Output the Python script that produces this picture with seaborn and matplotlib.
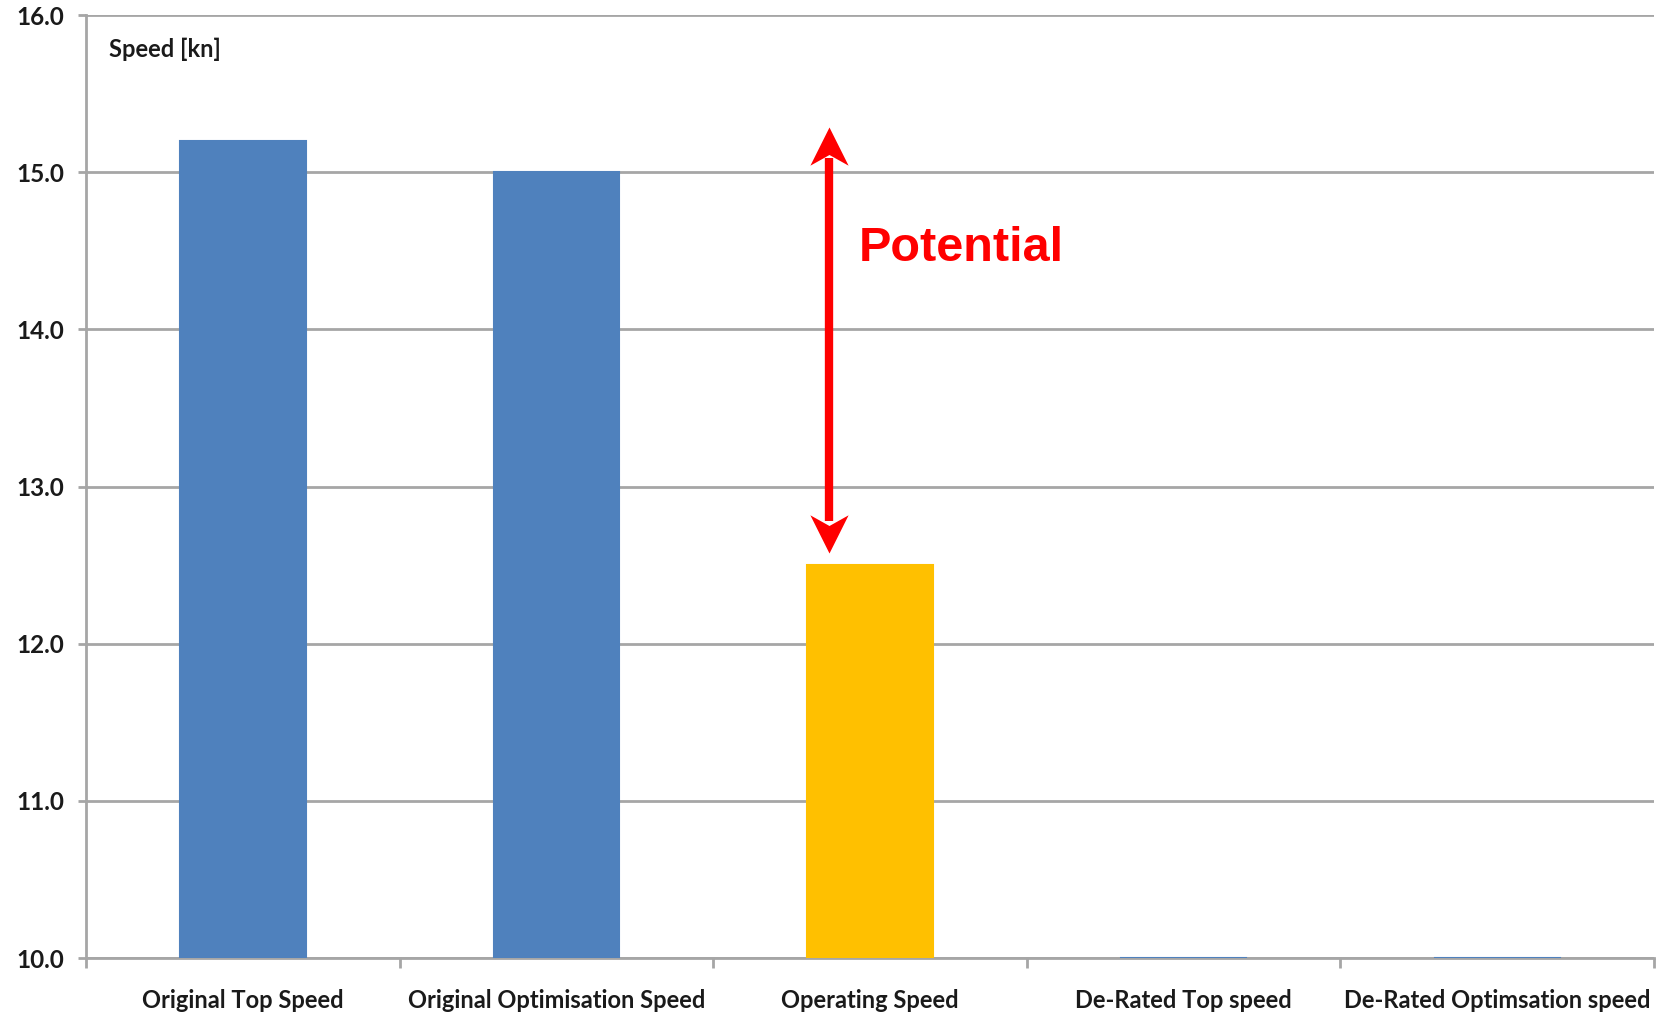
import matplotlib
matplotlib.use("Agg")
import matplotlib.pyplot as plt
import seaborn as sns
import pandas as pd
from matplotlib.path import Path
from matplotlib.ticker import FixedLocator

categories = ["Original Top Speed", "Original Optimisation Speed", "Operating Speed",
              "De-Rated Top speed", "De-Rated Optimsation speed"]
speeds = [15.2, 15.0, 12.5, 10.0, 10.0]
bar_colors = ["#4F81BD", "#4F81BD", "#FFC000", "#4F81BD", "#4F81BD"]
y_ticks = [10, 11, 12, 13, 14, 15, 16]
potential_top = 15.29
potential_bottom = 12.58

sns.set_style("white")
plt.rcParams['font.family'] = ['Lato', 'DejaVu Sans']

df = pd.DataFrame({"cat": categories, "speed": speeds})
fig = plt.figure(figsize=(16.65, 10.14), dpi=100)
ax = fig.add_axes([0.0517, 0.0552, 0.9417, 0.930])

sns.barplot(data=df, x="cat", y="speed", hue="cat", palette=bar_colors,
            width=0.40, legend=False, ax=ax, saturation=1, zorder=3)
for p in ax.patches:
    p.set_edgecolor(p.get_facecolor())
    p.set_linewidth(1.5)

ax.set_ylim(10, 16)
ax.set_xlim(-0.5, 4.5)
ax.set_yticks(y_ticks)
ax.set_yticklabels([f"{v:.1f}" for v in y_ticks])
ax.grid(axis="y", color="#a6a6a6", linewidth=2, zorder=0)
ax.set_axisbelow(True)
for s in ["top", "right"]:
    ax.spines[s].set_visible(False)
for s in ["left", "bottom"]:
    ax.spines[s].set_color("#a6a6a6")
    ax.spines[s].set_linewidth(2)

ax.tick_params(axis="y", which="major", left=True, length=6, width=2,
               color="#a6a6a6", pad=10, labelsize=17.5)
ax.tick_params(axis="x", which="major", length=0, pad=22, labelsize=17)
ax.xaxis.set_minor_locator(FixedLocator([-0.5, 0.5, 1.5, 2.5, 3.5, 4.5]))
ax.tick_params(axis="x", which="minor", bottom=True, length=7.5, width=2,
               color="#a6a6a6")
for lbl in ax.get_xticklabels() + ax.get_yticklabels():
    lbl.set_fontweight("bold")
    lbl.set_color("#1a1a1a")
ax.set_xlabel("")
ax.set_ylabel("")

ax.text(0.0145, 0.964, "Speed [kn]", transform=ax.transAxes, fontsize=17,
        fontweight="bold", color="#1a1a1a", va="center", ha="left")

# double-headed arrow with barbed heads
arrow_x = 1.87
head_up = Path([(0, 0), (-0.5, -1.0), (0, -0.72), (0.5, -1.0), (0, 0)],
               [Path.MOVETO, Path.LINETO, Path.LINETO, Path.LINETO, Path.CLOSEPOLY])
head_down = Path([(0, 0), (-0.5, 1.0), (0, 0.72), (0.5, 1.0), (0, 0)],
                 [Path.MOVETO, Path.LINETO, Path.LINETO, Path.LINETO, Path.CLOSEPOLY])
shaft_off = 0.2
ax.plot([arrow_x, arrow_x], [potential_bottom + shaft_off, potential_top - shaft_off],
        color="#FF0000", lw=6, solid_capstyle="butt", zorder=5)
ax.plot([arrow_x], [potential_top], marker=head_up, markersize=55,
        color="#FF0000", markeredgewidth=0, linestyle="none", zorder=6)
ax.plot([arrow_x], [potential_bottom], marker=head_down, markersize=55,
        color="#FF0000", markeredgewidth=0, linestyle="none", zorder=6)

ax.text(1.964, 14.515, "Potential", color="#FF0000", fontsize=35,
        fontweight="bold", family=["Liberation Sans", "DejaVu Sans"],
        va="center", ha="left", zorder=5)

fig.savefig("out.png", dpi=100)
